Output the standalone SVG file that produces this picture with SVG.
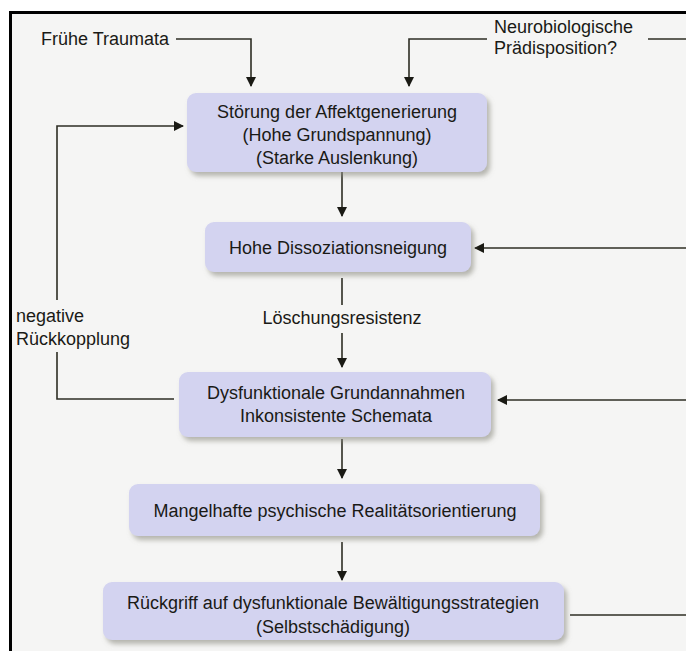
<svg xmlns="http://www.w3.org/2000/svg" width="686" height="651" viewBox="0 0 686 651">
<style>
.t{font-family:"Liberation Sans",Arial,sans-serif;font-size:18px;fill:#1a1a16;text-anchor:middle}
.l{font-family:"Liberation Sans",Arial,sans-serif;font-size:18px;fill:#1a1a16}
.box{fill:#d3d3f0;filter:url(#sh)}
.c{fill:none;stroke:#2e2e24;stroke-width:1.6}
.a{marker-end:url(#ah)}
</style>
<defs>
<marker id="ah" viewBox="0 0 10 10" refX="9" refY="5" markerWidth="10" markerHeight="10" markerUnits="userSpaceOnUse" orient="auto">
<path d="M0,0 L10,5 L0,10 z" fill="#1a1a14"/>
</marker>
<filter id="sh" x="-10%" y="-20%" width="120%" height="150%">
<feDropShadow dx="3" dy="4" stdDeviation="2.5" flood-color="#8a8a80" flood-opacity="0.6"/>
</filter>
</defs>
<rect x="0" y="0" width="686" height="651" fill="#ffffff"/>
<rect x="10" y="12" width="676" height="639" fill="#f5f5f4"/>
<path d="M10.5,651 V12.5 H686" fill="none" stroke="#000" stroke-width="3"/>

<g id="connectors">
<path class="c a" d="M176,39 H251 V86"/>
<path class="c a" d="M487,39 H409 V86"/>
<path class="c" d="M648,39 H686"/>
<path class="c a" d="M57,300 V126 H183"/>
<path class="c" d="M57,352 V399 H174"/>
<path class="c a" d="M342,172 V216"/>
<path class="c a" d="M686,248 H475"/>
<path class="c" d="M342,278 V305"/>
<path class="c a" d="M342,333 V367"/>
<path class="c a" d="M686,400 H498"/>
<path class="c a" d="M342,439 V478"/>
<path class="c a" d="M342,542 V580"/>
<path class="c" d="M570,615 H686"/>
</g>

<g id="label-fruehe"><text class="l" x="41" y="45">Frühe Traumata</text></g>
<g id="label-neuro">
<text class="l" x="494" y="33">Neurobiologische</text>
<text class="l" x="494" y="54">Prädisposition?</text>
</g>
<g id="label-rueck">
<text class="l" x="16" y="322">negative</text>
<text class="l" x="16" y="345">Rückkopplung</text>
</g>
<g id="label-loesch"><text class="t" x="342" y="324">Löschungsresistenz</text></g>

<g id="n1">
<rect class="box" x="187" y="93" width="300" height="79" rx="9"/>
<text class="t" x="337" y="118">Störung der Affektgenerierung</text>
<text class="t" x="337" y="141">(Hohe Grundspannung)</text>
<text class="t" x="337" y="164">(Starke Auslenkung)</text>
</g>
<g id="n2">
<rect class="box" x="205" y="222" width="266" height="50" rx="9"/>
<text class="t" x="338" y="254">Hohe Dissoziationsneigung</text>
</g>
<g id="n3">
<rect class="box" x="179" y="372" width="312" height="65" rx="9"/>
<text class="t" x="336" y="399">Dysfunktionale Grundannahmen</text>
<text class="t" x="336" y="422">Inkonsistente Schemata</text>
</g>
<g id="n4">
<rect class="box" x="129" y="484" width="411" height="52" rx="9"/>
<text class="t" x="335" y="517">Mangelhafte psychische Realitätsorientierung</text>
</g>
<g id="n5">
<rect class="box" x="103" y="582" width="461" height="58" rx="9"/>
<text class="t" x="333" y="609">Rückgriff auf dysfunktionale Bewältigungsstrategien</text>
<text class="t" x="333" y="633">(Selbstschädigung)</text>
</g>
</svg>
